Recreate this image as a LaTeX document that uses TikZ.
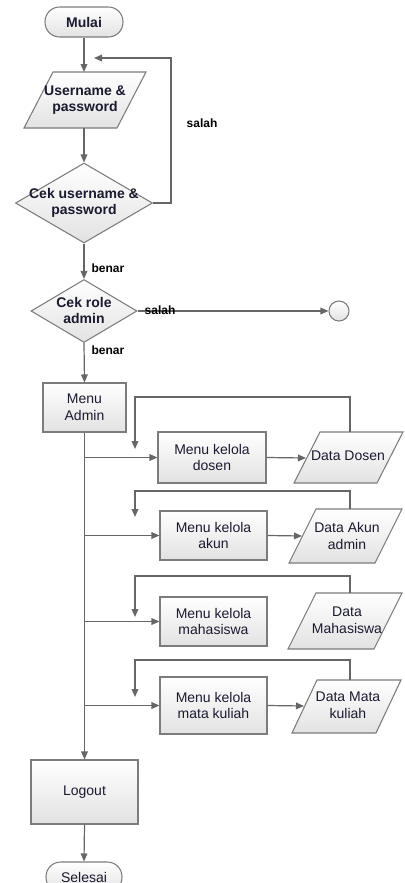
\documentclass[tikz,border=0pt]{standalone}
\usepackage{fontspec}
\setmainfont{Liberation Sans}
\usetikzlibrary{arrows.meta,shapes.geometric}

\definecolor{edge}{HTML}{7C7C7C}
\definecolor{wire}{HTML}{666666}
\definecolor{ink}{HTML}{1A1A30}
\definecolor{fillbot}{HTML}{E2E2E2}

\tikzset{
  shade/.style={top color=white, bottom color=fillbot},
  box/.style={draw=edge, line width=0.8pt, shade, inner sep=0pt,
    align=center, text=ink, font=\fontsize{10.5}{12.5}\selectfont},
  term/.style={box, rounded corners=11pt},
  proc/.style={box},
  dec/.style={diamond, draw=edge, line width=0.8pt, shade, inner sep=0pt},
  datashape/.style={draw=edge, line width=0.8pt, shade},
  txt/.style={align=center, text=ink, inner sep=0pt,
    font=\fontsize{10.5}{12.5}\selectfont},
  btxt/.style={txt, font=\bfseries\fontsize{10.5}{12}\selectfont},
  lbl/.style={inner sep=0pt, text=black, font=\bfseries\fontsize{9}{10}\selectfont},
  flow/.style={draw=wire, line width=0.9pt},
  arr/.style={flow, -{Triangle[length=6pt,width=5pt]}},
}

\begin{document}
\begin{tikzpicture}[x=0.75pt, y=-0.75pt]
\useasboundingbox (0,0) rectangle (404,883);
\clip (0,0) rectangle (404,883);

% start, login input and credential check
\node[term, minimum width=78*0.75pt, minimum height=30*0.75pt,
      font=\bfseries\fontsize{10.5}{12}\selectfont] (mulai) at (84,22) {Mulai};

\path[datashape] (53,72) -- (146,72) -- (117,128) -- (24,128) -- cycle;
\node[btxt] (user) at (85,100) {Username \&\\password};
\coordinate (user-top) at (84,72);
\coordinate (user-bot) at (84,128);

\node[dec, minimum width=137*0.75pt, minimum height=80*0.75pt] (cek1) at (84,203) {};
\node[btxt] (cek1t) at (84,203) {Cek username \&\\password};

\coordinate (lp1) at (171,58);
\coordinate (ret1) at (94,58);

\draw[arr] (mulai.south) -- (user-top);
\draw[arr] (user-bot) -- (cek1.north);
\draw[arr] (cek1.east) -| (lp1) -- (ret1);
\node[lbl] (salah1) at (202,123) {salah};

% role check
\node[dec, minimum width=106*0.75pt, minimum height=63*0.75pt] (cek2) at (84,311) {};
\node[btxt] (cek2t) at (84,310) {Cek role\\admin};
\node[circle, draw=edge, line width=0.8pt, shade, minimum size=20*0.75pt,
      inner sep=0pt] (endc) at (339,311) {};

\draw[arr] (cek1.south) -- (cek2.north);
\node[lbl] (benar1) at (108,268) {benar};
\draw[arr] (cek2.east) -- (endc.west);
\node[lbl] (salah2) at (160,310) {salah};

% admin menu
\node[proc, minimum width=83*0.75pt, minimum height=49*0.75pt] (admin) at (84.5,407.5) {Menu\\Admin};
\draw[arr] (cek2.south) -- (admin.north);
\node[lbl] (benar2) at (108,350) {benar};

\node[proc, minimum width=107*0.75pt, minimum height=64*0.75pt] (logout) at (84.5,792) {Logout};
\node[term, minimum width=76*0.75pt, minimum height=30*0.75pt] (selesai) at (84,877) {Selesai};

\draw[arr] (admin.south) -- (logout.north);
\draw[arr] (logout.south) -- (selesai.north);

% management menus
\node[proc, minimum width=108*0.75pt, minimum height=51*0.75pt] (mkd) at (212,457.5) {Menu kelola\\dosen};
\node[proc, minimum width=107*0.75pt, minimum height=49*0.75pt] (mka) at (213.5,535.5) {Menu kelola\\akun};
\node[proc, minimum width=107*0.75pt, minimum height=49*0.75pt] (mkm) at (213.5,621.5) {Menu kelola\\mahasiswa};
\node[proc, minimum width=107*0.75pt, minimum height=57*0.75pt] (mkmk) at (213.5,705.5) {Menu kelola\\mata kuliah};

\draw[arr] (admin.south |- mkd.west) -- (mkd.west);
\draw[arr] (admin.south |- mka.west) -- (mka.west);
\draw[arr] (admin.south |- mkm.west) -- (mkm.west);
\draw[arr] (admin.south |- mkmk.west) -- (mkmk.west);

% data stores
\path[datashape] (320,432) -- (403,432) -- (377,483) -- (294,483) -- cycle;
\node[txt] (dd) at (348,456) {Data Dosen};
\coordinate (dd-in) at (306,458);
\coordinate (dd-top) at (350,432);

\path[datashape] (316,509) -- (402,509) -- (375,563) -- (289,563) -- cycle;
\node[txt] (da) at (347,536) {Data Akun\\admin};
\coordinate (da-in) at (302,536);
\coordinate (da-top) at (350,509);

\path[datashape] (316,593) -- (402,593) -- (374,649) -- (288,649) -- cycle;
\node[txt] (dm) at (347,620) {Data\\Mahasiswa};
\coordinate (dm-top) at (350,593);

\path[datashape] (317,680) -- (401,680) -- (376,733) -- (292,733) -- cycle;
\node[txt] (dmk) at (348,705) {Data Mata\\kuliah};
\coordinate (dmk-in) at (304,706);
\coordinate (dmk-top) at (350,680);

\draw[arr] (mkd.east) -- (dd-in);
\draw[arr] (mka.east) -- (da-in);
\draw[arr] (mkmk.east) -- (dmk-in);

% return paths from the data stores
\coordinate (c1) at (350,397); \coordinate (r1) at (135,449);
\coordinate (c2) at (350,491); \coordinate (r2) at (135,517);
\coordinate (c3) at (350,576); \coordinate (r3) at (135,617);
\coordinate (c4) at (350,660); \coordinate (r4) at (135,697);

\draw[arr] (dd-top) -- (c1) -| (r1);
\draw[arr] (da-top) -- (c2) -| (r2);
\draw[arr] (dm-top) -- (c3) -| (r3);
\draw[arr] (dmk-top) -- (c4) -| (r4);
\end{tikzpicture}
\end{document}
